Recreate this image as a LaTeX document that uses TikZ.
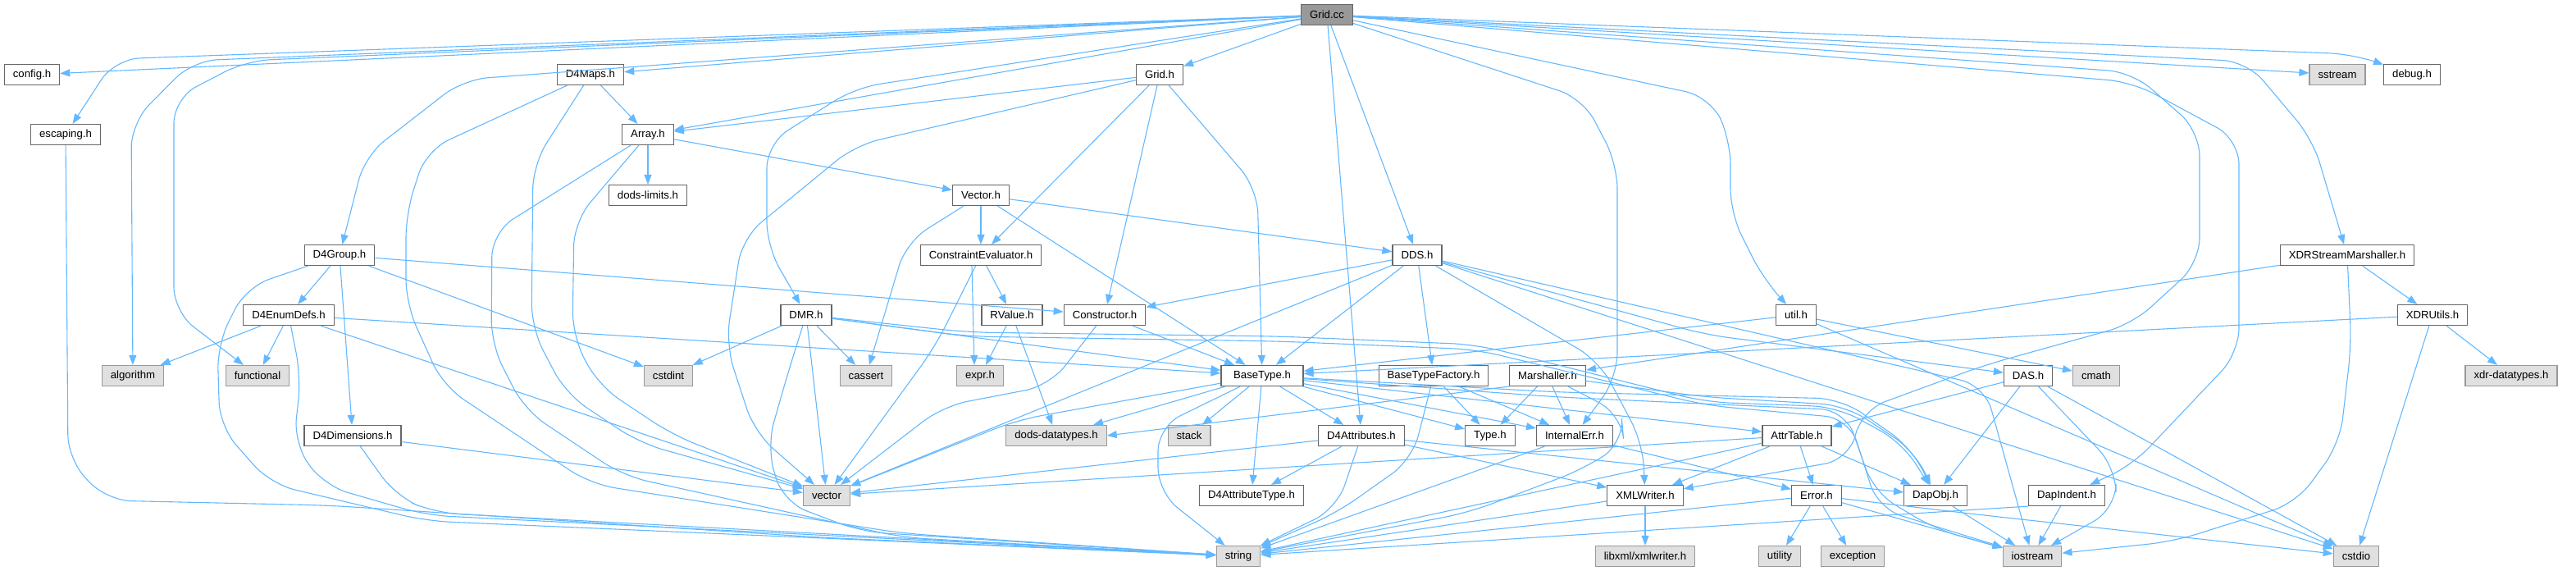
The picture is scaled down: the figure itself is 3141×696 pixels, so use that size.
\documentclass[tikz,border=0pt]{standalone}
\usepackage{fontspec}
\setmainfont{Liberation Sans}
\usetikzlibrary{arrows.meta}
\definecolor{edgeblue}{HTML}{63B8FF}
\definecolor{boxgray}{HTML}{666666}
\definecolor{sysgray}{HTML}{999999}
\definecolor{sysfill}{HTML}{E0E0E0}
\definecolor{rootfill}{HTML}{999999}
\begin{document}
\begin{tikzpicture}[x=1pt, y=-1pt, >={Triangle[length=12pt,width=9pt]},
  hfile/.style={draw=boxgray, fill=white, line width=1.2pt, minimum height=25pt,
    inner xsep=10.5pt, inner ysep=0pt, font=\fontsize{13.2}{15}\selectfont},
  sysfile/.style={hfile, draw=sysgray, fill=sysfill},
  rootfile/.style={hfile, fill=rootfill},
  incl/.style={->, draw=edgeblue, line width=1.1pt, rounded corners=30pt}]
\useasboundingbox (0,0) rectangle (3141,696);
% Các tệp tiêu đề
\node[rootfile] (gridcc) at (1618,18) {Grid.cc};
\node[hfile] (config) at (39,91) {config.h};
\node[hfile] (escaping) at (80,164) {escaping.h};
\node[hfile] (d4maps) at (720,91) {D4Maps.h};
\node[hfile] (array) at (790,164) {Array.h};
\node[hfile] (limits) at (790,238) {dods-limits.h};
\node[hfile] (gridh) at (1414,91) {Grid.h};
\node[hfile] (vectorh) at (1196,238) {Vector.h};
\node[hfile] (ceval) at (1196,311) {ConstraintEvaluator.h};
\node[hfile] (d4group) at (414,311) {D4Group.h};
\node[hfile] (dds) at (1728,311) {DDS.h};
\node[sysfile] (sstream) at (2850,91) {sstream};
\node[hfile] (debug) at (2941,91) {debug.h};
\node[hfile] (xdrsm) at (2862,311) {XDRStreamMarshaller.h};
\node[hfile] (d4enum) at (352,384) {D4EnumDefs.h};
\node[hfile] (dmr) at (983,384) {DMR.h};
\node[hfile] (rvalue) at (1234,384) {RValue.h};
\node[hfile] (constructor) at (1347,384) {Constructor.h};
\node[hfile] (util) at (2190,384) {util.h};
\node[hfile] (xdrutils) at (2966,384) {XDRUtils.h};
\node[sysfile] (algorithm) at (162,458) {algorithm};
\node[sysfile] (functional) at (314,458) {functional};
\node[sysfile] (cstdint) at (815,458) {cstdint};
\node[sysfile] (cassert) at (1056,458) {cassert};
\node[sysfile] (expr) at (1195,458) {expr.h};
\node[hfile, minimum width=100pt] (basetype) at (1539,458) {BaseType.h};
\node[hfile] (btfactory) at (1748,458) {BaseTypeFactory.h};
\node[hfile] (marshaller) at (1887,458) {Marshaller.h};
\node[hfile] (das) at (2473,458) {DAS.h};
\node[sysfile] (cmath) at (2556,458) {cmath};
\node[sysfile] (xdrtypes) at (3062,458) {xdr-datatypes.h};
\node[hfile] (d4dims) at (430,531) {D4Dimensions.h};
\node[sysfile] (datatypes) at (1288,531) {dods-datatypes.h};
\node[sysfile] (stack) at (1450,531) {stack};
\node[hfile] (d4attrs) at (1660,531) {D4Attributes.h};
\node[hfile] (type) at (1817,531) {Type.h};
\node[hfile] (internalerr) at (1920,531) {InternalErr.h};
\node[hfile] (attrtable) at (2191,531) {AttrTable.h};
\node[sysfile] (vector) at (1008,604) {vector};
\node[hfile] (d4attrtype) at (1526,604) {D4AttributeType.h};
\node[hfile] (xmlwriter) at (2006,604) {XMLWriter.h};
\node[hfile] (error) at (2215,604) {Error.h};
\node[hfile] (dapobj) at (2360,604) {DapObj.h};
\node[hfile] (dapindent) at (2520,604) {DapIndent.h};
\node[sysfile] (string) at (1510,678) {string};
\node[sysfile] (libxml) at (2006,678) {libxml/xmlwriter.h};
\node[sysfile] (utility) at (2170,678) {utility};
\node[sysfile] (exception) at (2259,678) {exception};
\node[sysfile] (iostream) at (2478,678) {iostream};
\node[sysfile] (cstdio) at (2873,678) {cstdio};
% Các cạnh thẳng
\foreach \a/\b in {gridcc/config, gridcc/sstream, gridcc/d4maps, gridcc/array, gridcc/gridh,
    gridcc/d4attrs, gridcc/dds, gridh/array, gridh/ceval, gridh/constructor, d4maps/array,
    array/limits, array/vectorh, vectorh/ceval, vectorh/dds, vectorh/basetype, ceval/rvalue,
    rvalue/expr, rvalue/datatypes, d4group/d4enum, d4group/d4dims, d4group/cstdint,
    d4group/constructor, d4enum/algorithm, d4enum/functional, d4enum/basetype, d4enum/vector,
    d4dims/vector, dmr/cstdint, dmr/cassert, dmr/vector, dmr/basetype, constructor/basetype,
    dds/constructor, dds/basetype, dds/btfactory, dds/vector, dds/cstdio, basetype/stack,
    basetype/datatypes, basetype/d4attrtype, basetype/d4attrs, basetype/type,
    basetype/internalerr, basetype/attrtable, btfactory/type, btfactory/internalerr,
    marshaller/type, marshaller/internalerr, d4attrs/d4attrtype, d4attrs/xmlwriter,
    d4attrs/dapobj, d4attrs/vector, internalerr/error, internalerr/string, xmlwriter/libxml,
    xmlwriter/string, attrtable/error, attrtable/dapobj, attrtable/xmlwriter, attrtable/string,
    attrtable/vector, das/attrtable, das/dapobj, das/cstdio, util/cmath, util/basetype,
    util/cstdio, error/utility, error/exception, error/iostream, error/string, dapobj/iostream,
    dapindent/iostream, xdrsm/marshaller, xdrsm/xdrutils, xdrutils/xdrtypes,
    xdrutils/basetype, xdrutils/cstdio}
  \draw[incl] (\a) -- (\b);
% Các cạnh vòng từ Grid.cc
\draw[incl] (gridcc) -- (140,72) -- (escaping);
\draw[incl] (gridcc) -- (235,74) -- (160,150) -- (algorithm);
\draw[incl] (gridcc) -- (300,74) -- (212,120) -- (212,380) -- (functional);
\draw[incl] (gridcc) -- (565,97) -- (445,190) -- (d4group);
\draw[incl] (gridcc) -- (1043,107) -- (935,175) -- (935,300) -- (dmr);
\draw[incl] (gridcc) -- (1930,120) -- (1972,200) -- (1972,460) -- (internalerr);
\draw[incl] (gridcc) -- (2085,118) -- (2110,170) -- (2110,260) -- (2150,340) -- (util);
\draw[incl] (gridcc) -- (2870,66) -- (debug);
\draw[incl] (gridcc) -- (2740,75) -- (2820,170) -- (xdrsm);
\draw[incl] (gridcc) -- (2600,88) -- (2682,160) -- (2682,320) -- (2600,395) -- (2420,445)
  -- (2270,500) -- (2255,560) -- (xmlwriter);
\draw[incl] (gridcc) -- (2600,100) -- (2730,170) -- (2730,430) -- (2600,567) -- (dapindent);
% Các cạnh vòng bên trái
\draw[incl] (gridh) -- (1043,177) -- (905,290) -- (885,420) -- (920,527) -- (vector);
\draw[incl] (gridh) -- (1533,230) -- (basetype);
\draw[incl] (d4maps) -- (520,183) -- (495,260) -- (495,370) -- (540,470) -- (720,590)
  -- (1100,650) -- (string);
\draw[incl] (d4maps) -- (650,200) -- (648,400) -- (690,480) -- (780,540) -- (vector);
\draw[incl] (array) -- (600,283) -- (599,420) -- (640,500) -- (760,580) -- (1100,655) -- (string);
\draw[incl] (array) -- (700,270) -- (698,410) -- (730,470) -- (820,530) -- (vector);
\draw[incl] (escaping) -- (83,560) -- (130,610) -- (400,616) -- (1000,655) -- (string);
\draw[incl] (d4group) -- (300,350) -- (265,420) -- (268,520) -- (330,590) -- (520,635) -- (string);
\draw[incl] (d4enum) -- (367,460) -- (358,540) -- (395,592) -- (520,628) -- (string);
\draw[incl] (d4dims) -- (483,605) -- (530,625) -- (string);
\draw[incl] (dmr) -- (960,457) -- (935,545) -- (955,612) -- (1050,648) -- (string);
\draw[incl] ([xshift=-11pt]ceval.south) -- ([xshift=-7pt]expr.north);
\draw[incl] (ceval) -- (1140,423) -- (vector);
\draw[incl] (vectorh) -- (1105,295) -- (cassert);
\draw[incl] (constructor) -- (1280,470) -- (1150,495) -- (vector);
% Các cạnh từ BaseType.h và lân cận
\draw[incl] (basetype) -- (1240,512) -- (vector);
\draw[incl] (basetype) -- (1412,520) -- (1412,600) -- (string);
\draw[incl] (basetype) -- (1900,478) -- (2245,486) -- (2330,545) -- (dapobj);
\draw[incl] (basetype) -- (1900,484) -- (2250,500) -- (2285,600) -- (2360,645) -- (iostream);
\draw[incl] (dmr) -- (1180,405) -- (1560,410) -- (1800,420) -- (2080,490) -- (2240,496)
  -- (2320,540) -- (dapobj);
\draw[incl] (dmr) -- (1180,410) -- (1560,416) -- (1800,426) -- (2080,494) -- (2255,510)
  -- (2290,620) -- (iostream);
\draw[incl] (btfactory) -- (1722,560) -- (1630,625) -- (string);
\draw[incl] (d4attrs) -- (1630,620) -- (string);
\draw[incl] (marshaller.south west) -- (datatypes.east);
\draw[incl] (marshaller) -- (1977,505) -- (1980,540) -- (1930,572) -- (1790,625) -- (string);
\draw[incl] (marshaller) -- (2080,484) -- (2250,494) -- (2335,550) -- (dapobj);
% Các cạnh bên phải
\draw[incl] (dds) -- (2080,408) -- (das);
\draw[incl] (dds) -- (1950,440) -- (2003,540) -- (xmlwriter);
\draw[incl] (dds) -- (2420,470) -- (iostream);
\draw[incl] (das) -- (2580,570) -- (2580,620) -- (iostream);
\draw[incl] (error) -- (2410,627) -- (cstdio);
\draw[incl] (dapindent.south west) -- (string);
\draw[incl] (xdrsm) -- (2867,420) -- (2853,540) -- (2800,613) -- (2650,660) -- (iostream);
\end{tikzpicture}
\end{document}
